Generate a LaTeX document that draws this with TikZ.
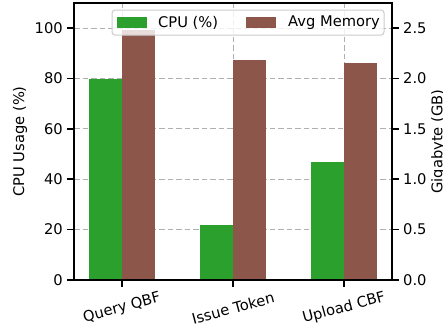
\documentclass[tikz,border=0pt]{standalone}
\usepackage{fontspec}
\setmainfont{DejaVu Sans}
\definecolor{cpugreen}{HTML}{2CA02C}
\definecolor{membrown}{HTML}{8C564B}
\definecolor{gridgray}{HTML}{B0B0B0}
\begin{document}
\begin{tikzpicture}[x=1pt,y=1pt,
  font=\fontsize{14.7}{17}\selectfont,
  gridline/.style={gridgray, line width=1pt, dash pattern=on 5.5pt off 3pt},
  spine/.style={black, line width=1.6pt},
  tickmark/.style={black, line width=1.6pt},
  ticklab/.style={inner sep=0pt},
  cpubar/.style={fill=cpugreen},
  membar/.style={fill=membrown}]
\useasboundingbox (0,0) rectangle (443,333);

% axes frame: x from -0.43 to 2.43 (groups at 0,1,2), y from 0 to 110
\begin{scope}[shift={(122,53)}, x=111pt, y=2.518pt]
  \coordinate (ll) at (-0.4324,0);
  \coordinate (lr) at (2.4324,0);
  \coordinate (ul) at (-0.4324,110);
  \coordinate (ur) at (2.4324,110);

  % grid
  \foreach \v in {20,40,60,80,100}
    \draw[gridline] (-0.4324,\v) -- (2.4324,\v);
  \foreach \g in {0,1,2}
    \draw[gridline] (\g,0) -- (\g,110);

  % bars: CPU (%) and average memory (GB scaled by 40)
  \foreach \g/\c/\m in {0/79.9/99.2, 1/21.8/87.3, 2/46.9/86.2} {
    \fill[cpubar] (\g-0.3,0) rectangle (\g,\c);
    \fill[membar] (\g,0) rectangle (\g+0.3,\m);
  }

  % left ticks
  \foreach \v in {0,20,40,60,80,100} {
    \draw[tickmark] (-0.4324,\v) -- ++(-7pt,0) coordinate (lt\v);
    \node[ticklab, anchor=east] (lab\v) at ([xshift=-4pt]lt\v) {\v};
  }
  % right ticks (GB)
  \foreach \v/\t in {0/0.0,20/0.5,40/1.0,60/1.5,80/2.0,100/2.5} {
    \draw[tickmark] (2.4324,\v) -- ++(7pt,0) coordinate (rt\v);
    \node[ticklab, anchor=west] (rlab\v) at ([xshift=4pt]rt\v) {\t};
  }
  % bottom ticks
  \foreach \g in {0,1,2}
    \draw[tickmark] (\g,0) -- ++(0,-7pt) coordinate (bt\g);
\end{scope}

% spines
\draw[spine, line cap=rect] (ll) rectangle (ur);

% category labels
\node[rotate=15] (q) at (122,25) {Query QBF};
\node[rotate=15] (i) at (233,25) {Issue Token};
\node[rotate=15] (u) at (344,25) {Upload CBF};

% axis titles
\node[rotate=90] (yl) at (20,191.5) {CPU Usage (\%)};
\node[rotate=90, anchor=north, inner sep=0pt] (yr) at (431,191.5) {Gigabyte (GB)};

% legend
\draw[fill=white, fill opacity=0.8, draw=gray!40, line width=1pt, rounded corners=3pt]
  (112,298) rectangle (384,323);
\fill[cpubar] (117,305) rectangle (147,316);
\node[anchor=west, inner sep=0pt] (lcpu) at (158,310.5) {CPU (\%)};
\fill[membar] (246,305) rectangle (276,316);
\node[anchor=west, inner sep=0pt] (lmem) at (288,310.5) {Avg Memory};
\end{tikzpicture}
\end{document}
